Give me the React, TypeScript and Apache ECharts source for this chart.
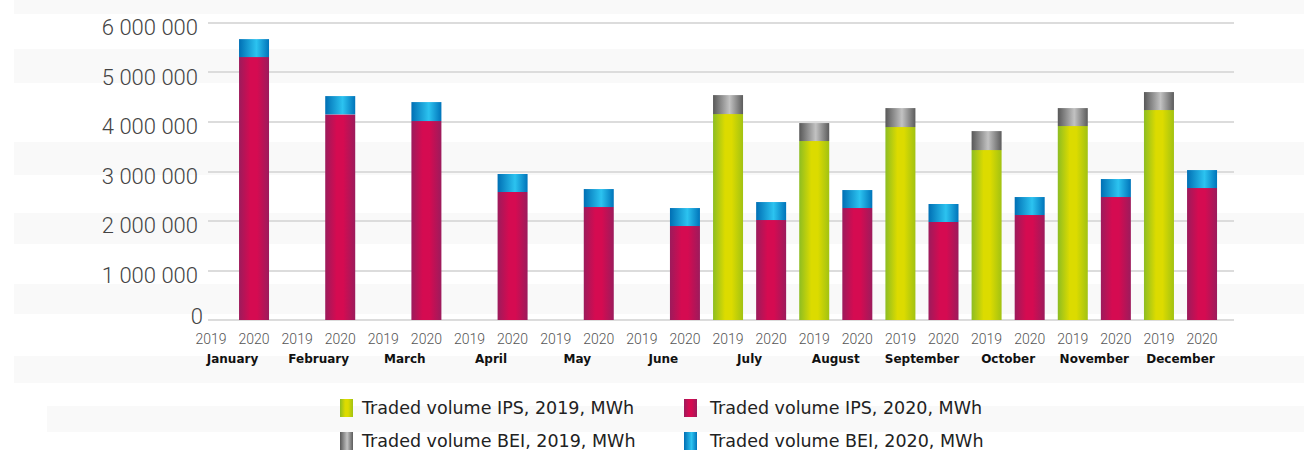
import React, { useEffect, useRef } from "react";
import * as echarts from "echarts";

const months = ["January", "February", "March", "April", "May", "June", "July", "August", "September", "October", "November", "December"];
const years = ["2019", "2020"];
const yTicks = [0, 1000000, 2000000, 3000000, 4000000, 5000000, 6000000];

const ips2019 = [null, null, null, null, null, null, 4153000, 3609000, 3891000, 3427000, 3911000, 4234000];
const bei2019 = [null, null, null, null, null, null, 383000, 363000, 383000, 383000, 363000, 363000];
const ips2020 = [5302000, 4147000, 4012000, 2581000, 2278000, 1895000, 2016000, 2258000, 1976000, 2117000, 2480000, 2661000];
const bei2020 = [363000, 369000, 383000, 363000, 363000, 363000, 363000, 363000, 363000, 363000, 363000, 363000];

const seriesNames = [
  "Traded volume IPS, 2019, MWh",
  "Traded volume BEI, 2019, MWh",
  "Traded volume IPS, 2020, MWh",
  "Traded volume BEI, 2020, MWh",
];

const grad = (stops: [number, string][]) =>
  new echarts.graphic.LinearGradient(0, 0, 1, 0, stops.map(([offset, color]) => ({ offset, color })));

const green = grad([[0, "#8dbd22"], [0.4, "#dcdb00"], [0.62, "#dcdb00"], [1, "#a2c212"]]);
const gray = grad([[0, "#585858"], [0.55, "#c2c2c2"], [1, "#5c5c5c"]]);
const crimson = grad([[0, "#9c1b5c"], [0.38, "#d50b51"], [0.6, "#d50b51"], [1, "#9c1b5c"]]);
const blue = grad([[0, "#006fb4"], [0.58, "#2cc3f0"], [1, "#0074ba"]]);

const fmt = (v: number) => String(v).replace(/\B(?=(\d{3})+(?!\d))/g, " ");

export default function App() {
  const ref = useRef<HTMLDivElement>(null);
  useEffect(() => {
    document.body.style.margin = "0";
    const chart = echarts.init(ref.current!, null, { renderer: "svg" });
    const cats: string[] = [];
    months.forEach((m) => years.forEach((y) => cats.push(m + " " + y)));
    const at = (arr: (number | null)[], yi: number) =>
      cats.map((_, i) => (i % 2 === yi && arr[Math.floor(i / 2)] != null ? arr[Math.floor(i / 2)] : "-"));
    const stripes = [
      [14, 0, 14], [14, 49, 34], [14, 142, 33], [14, 213, 31], [14, 284, 30], [14, 356, 27], [47, 406, 26],
    ].map(([x, y, h]) => ({
      type: "rect",
      silent: true,
      z: -10,
      shape: { x, y, width: 1304 - x, height: h },
      style: { fill: "#f9f9f9" },
    }));
    const legendPos = [
      { left: 340, top: 399 },
      { left: 340, top: 432 },
      { left: 684, top: 399 },
      { left: 684, top: 432 },
    ];
    const option: any = {
      animation: false,
      graphic: { elements: stripes },
      legend: seriesNames.map((n, i) => ({
        data: [n],
        left: legendPos[i].left,
        top: legendPos[i].top,
        padding: 0,
        icon: "rect",
        itemWidth: 13,
        itemHeight: 18,
        selectedMode: false,
        textStyle: { fontFamily: "DejaVu Sans", fontSize: 17.5, color: "#222", padding: [2, 0, 0, i >= 2 ? 8 : 4] },
      })),
      grid: [
        { left: 208, right: 70, top: 22.5, bottom: 130 },
        { left: 189.4, right: 80.4, top: 22.5, bottom: 130 },
      ],
      xAxis: [
        { type: "category", gridIndex: 0, data: cats, show: false },
        {
          type: "category",
          gridIndex: 1,
          data: cats,
          position: "bottom",
          axisLine: { show: false },
          axisTick: { show: false },
          axisLabel: {
            interval: 0,
            margin: 12,
            formatter: (v: string) => v.split(" ")[1],
            fontFamily: "Roboto",
            fontWeight: 300,
            fontSize: 14,
            color: "#555",
          },
        },
        {
          type: "category",
          gridIndex: 1,
          data: months,
          position: "bottom",
          axisLine: { show: false },
          axisTick: { show: false },
          axisLabel: {
            interval: 0,
            margin: 33,
            fontFamily: "DejaVu Sans",
            fontWeight: "bold",
            fontSize: 12,
            color: "#111",
          },
        },
      ],
      yAxis: [
        {
          type: "value",
          gridIndex: 0,
          min: yTicks[0],
          max: yTicks[yTicks.length - 1],
          interval: yTicks[1] - yTicks[0],
          axisLine: { show: false },
          axisTick: { show: false },
          splitLine: { show: true, lineStyle: { color: "#dcdcdc", width: 2 } },
          axisLabel: {
            margin: 5,
            formatter: (v: number) => (v === 0 ? "{z|0}" : "{n|" + fmt(v) + "}"),
            rich: {
              n: { fontFamily: "Roboto", fontWeight: 300, fontSize: 22, color: "#444", padding: [10, 5, 0, 0] },
              z: { fontFamily: "Roboto", fontWeight: 300, fontSize: 22, color: "#444", padding: [0, 0, 7, 0] },
            },
          },
        },
        { type: "value", gridIndex: 1, min: 0, max: 6000000, show: false, splitLine: { show: false } },
      ],
      series: [
        { name: seriesNames[0], data: at(ips2019, 0), color: green },
        { name: seriesNames[1], data: at(bei2019, 0), color: gray },
        { name: seriesNames[2], data: at(ips2020, 1), color: crimson },
        { name: seriesNames[3], data: at(bei2020, 1), color: blue },
      ].map((s) => ({
        type: "bar",
        name: s.name,
        xAxisIndex: 1,
        yAxisIndex: 1,
        stack: "total",
        barWidth: 30,
        data: s.data,
        itemStyle: { color: s.color },
      })),
    };
    chart.setOption(option);
    return () => chart.dispose();
  }, []);
  return <div ref={ref} style={{ width: 1304, height: 450 }} />;
}
